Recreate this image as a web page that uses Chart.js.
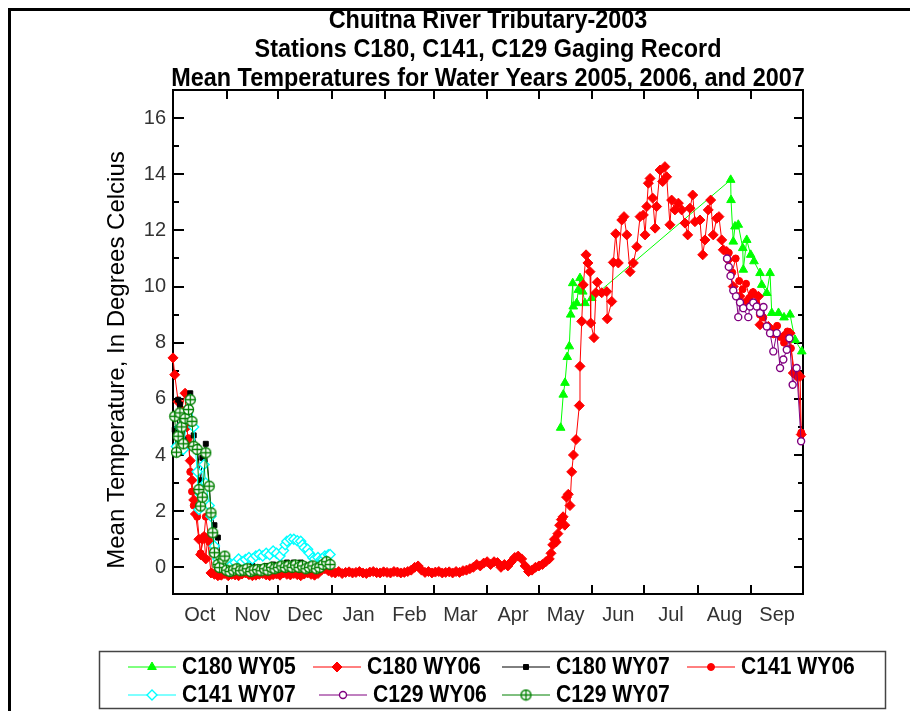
<!DOCTYPE html>
<html>
<head>
<meta charset="utf-8">
<script src="https://cdn.jsdelivr.net/npm/chart.js@4.4.1/dist/chart.umd.min.js"></script>
<style>
  html, body { margin: 0; padding: 0; background: #fff; }
  #wrap { width: 920px; height: 711px; }
</style>
</head>
<body>
<div id="wrap"><canvas id="gameCanvas" width="920" height="711"></canvas></div>
<script>
// Day of water year (0 = Oct 1) and mean temperature
const months = ['Oct', 'Nov', 'Dec', 'Jan', 'Feb', 'Mar', 'Apr', 'May', 'Jun', 'Jul', 'Aug', 'Sep'];
const monthMid = [15.5, 46, 76.5, 107.5, 137, 166.5, 197, 227.5, 258, 288.5, 319.5, 350];
const monthEdges = [31, 61, 92, 123, 151, 182, 212, 243, 273, 304, 335];
const yTicks = [0, 2, 4, 6, 8, 10, 12, 14, 16];

const titleLines = [
  'Chuitna River Tributary-2003',
  'Stations C180, C141, C129 Gaging Record',
  'Mean Temperatures for Water Years 2005, 2006, and 2007',
];
const yTitle = 'Mean Temperature, In Degrees Celcius';
const seriesNames = ['C180 WY05', 'C180 WY06', 'C180 WY07', 'C141 WY06', 'C141 WY07', 'C129 WY06', 'C129 WY07'];

const c180wy05 = [
  [224.6, 4.97], [226.1, 6.15], [227.1, 6.57], [228.4, 7.49], [229.6, 7.87], [230.4, 9.0], [231.6, 10.12],
  [231.9, 9.29], [233.9, 9.41], [234.8, 9.88], [235.8, 10.3], [237.4, 9.82], [238.7, 9.41], [242.6, 9.59],
  [323.1, 13.8], [323.3, 13.08], [324.6, 11.6], [325.6, 12.14], [327.5, 12.2], [330.1, 11.37], [330.4, 10.6],
  [332.4, 11.66], [334.7, 11.13], [336.6, 10.9], [340.1, 10.48], [341.1, 10.06], [344, 9.77], [345.9, 10.48],
  [346.9, 9.06], [350.8, 9.06], [354, 8.9], [357.5, 9.0], [360.4, 8.1], [364.3, 7.69],
];

const c180wy06 = [
  [0, 7.46], [1, 6.86], [3, 5.9], [5, 5.6], [7, 6.2], [8, 5.0], [9, 4.4], [10, 3.8], [11, 3.1], [12, 2.4],
  [13, 1.9], [15, 1.0], [16, 0.45], [17, 1.0], [18, 1.1], [19, 0.3], [20, 1.0], [22, -0.2],
  [24, -0.25], [26, -0.3], [28, -0.28], [30, -0.22], [32, -0.3], [34, -0.25], [36, -0.27], [38, -0.3],
  [40, -0.24], [42, -0.2], [44, -0.26], [46, -0.3], [48, -0.28], [50, -0.25], [52, -0.22], [54, -0.27],
  [56, -0.3], [58, -0.26], [60, -0.24], [62, -0.28], [64, -0.2], [66, -0.25], [68, -0.27], [70, -0.22],
  [72, -0.26], [74, -0.3], [76, -0.24], [78, -0.2], [80, -0.25], [82, -0.28], [84, -0.22], [86, -0.1],
  [88, -0.05], [90, -0.12], [92, -0.18], [94, -0.2], [96, -0.15], [98, -0.22], [100, -0.18], [102, -0.16],
  [104, -0.2], [106, -0.18], [108, -0.15], [110, -0.2], [112, -0.22], [114, -0.17], [116, -0.15], [118, -0.19],
  [120, -0.2], [122, -0.16], [124, -0.18], [126, -0.2], [128, -0.15], [130, -0.17], [132, -0.2], [134, -0.18],
  [136, -0.15], [138, -0.1], [140, 0.0], [142, 0.05], [144, -0.1], [146, -0.18], [148, -0.15], [150, -0.2],
  [152, -0.17], [154, -0.15], [156, -0.2], [158, -0.18], [160, -0.16], [162, -0.2], [164, -0.15], [166, -0.18],
  [168, -0.12], [170, -0.1], [172, -0.05], [174, 0.0], [176, 0.1], [178, 0.05], [180, 0.15], [182, 0.2],
  [184, 0.1], [186, 0.2], [188, 0.17], [190, 0.0], [192, 0.1], [194, 0.05], [196, 0.2], [198, 0.35],
  [200, 0.4], [202, 0.3], [204, 0.05], [206, -0.15], [208, -0.1], [210, 0.0], [212, 0.05], [214, 0.1],
  [216, 0.2], [218, 0.3], [219, 0.5], [220, 0.8], [221, 1.0], [222, 0.9], [223, 1.2], [224, 1.5],
  [225, 1.7], [226, 1.8], [227, 1.5], [228, 2.5], [229, 2.6], [230, 2.2], [231, 3.4], [232, 4.0],
  [233.5, 4.55], [235.4, 5.76], [235.8, 7.16], [236.8, 8.76], [237.7, 10.06], [239.3, 11.13], [240.4, 10.84],
  [241.6, 10.53], [242, 8.7], [243.9, 8.18], [245, 9.78], [245.8, 10.15], [248.4, 9.78], [251.3, 9.82],
  [251.6, 8.85], [254.2, 9.47], [255.1, 10.86], [256.5, 11.88], [258, 10.84], [260, 12.37], [261.3, 12.49],
  [262.9, 11.84], [264.8, 10.53], [266.7, 10.84], [268.7, 11.42], [270.6, 12.49], [272.5, 12.55], [273.5, 11.84],
  [274.5, 12.85], [275.4, 13.68], [276.4, 13.85], [277.9, 13.15], [279.3, 12.08], [280.2, 12.85], [282.2, 14.15],
  [283.7, 13.74], [285, 14.27], [286, 13.91], [287.9, 12.2], [288.9, 13.08], [290.8, 12.73], [292.8, 12.97],
  [294.7, 12.73], [296.6, 12.26], [298.2, 11.84], [299.5, 12.79], [301.1, 13.26], [302.4, 12.31], [305.3, 12.37],
  [306.9, 11.13], [308.2, 11.66], [310.1, 12.73], [311.5, 13.08], [313, 11.84], [315, 12.43], [316.3, 12.49],
  [317.9, 11.66], [318.8, 11.31], [320.8, 11.25], [321.7, 10.95], [324.6, 10.0], [328.5, 9.65], [332.4, 9.47],
  [336.2, 9.77], [339.2, 9.65], [340.1, 8.64], [344.9, 8.58], [347.8, 8.4], [353.6, 8.22], [357.5, 8.34],
  [359.4, 6.92], [361.5, 6.8], [363.3, 6.8], [364, 4.73],
];

const c180wy07 = [
  [1, 4.9], [2, 4.2], [3, 5.97], [4, 5.8], [6, 4.55], [8, 5.6], [10, 6.2], [12, 4.7], [14, 4.3], [16, 3.1],
  [17, 3.9], [19, 4.4], [21, 2.95], [22, 2.0], [24, 1.5], [26, 1.06], [28, 0.05], [30, -0.1], [32, -0.05],
  [34, -0.1], [36, 0.0], [38, -0.08], [40, -0.1], [42, 0.0], [44, -0.05], [46, 0.05], [48, -0.1], [50, 0.0],
  [52, -0.05], [54, 0.05], [56, 0.0], [58, 0.1], [60, 0.05], [62, 0.1], [64, 0.0], [66, 0.17], [68, 0.1],
  [70, 0.17], [72, 0.15], [74, 0.17], [76, 0.1], [78, 0.05], [80, 0.1], [82, 0.0], [84, 0.05], [86, 0.1],
  [88, 0.05], [90, 0.1],
];

const c141wy06 = [
  [9, 4.6], [10, 3.4], [11, 2.7], [12, 2.2], [14, 1.8], [16, 0.5], [18, 1.1], [19, 1.8], [21, 0.9],
  [23, -0.2], [25, -0.25], [27, -0.3], [29, -0.25], [200, null],
  [322, 11.2], [324, 10.5], [326, 11.0], [328, 10.2], [330, 9.9], [332, 10.1], [334, 9.6], [336, 9.8],
  [338, 9.4], [340, 9.0], [342, 8.9], [344, 8.6], [346, 8.5], [348, 8.3], [350, 8.6], [352, 8.2],
  [354, 8.0], [356, 8.4], [358, 7.8], [360, 7.0], [362, 6.9], [364, 4.8],
];

const c141wy07 = [
  [2, 4.3], [4, 5.0], [6, 4.2], [8, 5.3], [10, 5.97], [12, 5.0], [14, 3.4], [15, 2.06], [16, 2.6], [18, 3.66],
  [19, 3.0], [21, 2.2], [22, 1.82], [24, 0.76], [26, 0.3], [28, 0.1], [30, 0.15], [32, 0.2], [34, 0.1],
  [36, 0.17], [38, 0.3], [40, 0.2], [42, 0.28], [44, 0.35], [46, 0.3], [48, 0.4], [50, 0.46], [52, 0.4],
  [54, 0.5], [56, 0.45], [58, 0.58], [60, 0.5], [62, 0.4], [64, 0.6], [65, 0.8], [66, 0.93], [68, 1.0],
  [70, 1.0], [72, 0.95], [74, 0.93], [75, 0.8], [76, 0.7], [78, 0.64], [79, 0.5], [81, 0.34], [82, 0.3],
  [84, 0.35], [86, 0.3], [87, 0.28], [88, 0.4], [90, 0.45], [91, 0.46],
];

const c129wy06 = [
  [321, 11.0], [322, 10.7], [323, 10.38], [324.6, 9.86], [326.2, 9.65], [327.5, 8.91], [328.5, 9.43],
  [330.4, 9.23], [333.3, 8.91], [334.3, 9.29], [336.2, 9.43], [338.2, 9.29], [340.1, 9.06], [342.1, 9.27],
  [344, 8.58], [345.9, 8.34], [347.8, 7.69], [349.8, 8.34], [351.7, 7.1], [353.6, 7.4], [355.6, 7.75],
  [357.1, 8.16], [359, 6.5], [361.3, 7.1], [363.9, 4.49],
];

const c129wy07 = [
  [1, 5.38], [2, 4.1], [3, 4.67], [4, 5.5], [5, 5.0], [6, 4.4], [7, 5.3], [9, 5.62], [10, 5.97], [11, 5.2],
  [12, 4.31], [14, 4.2], [15, 2.77], [16, 2.18], [17, 2.5], [19, 4.08], [21, 2.89], [22, 1.94], [23, 1.23],
  [24, 0.52], [26, 0.1], [27, -0.01], [29, 0.3], [30, 0.4], [31, -0.1], [33, -0.15], [35, -0.1], [37, -0.05],
  [39, -0.12], [41, -0.1], [43, -0.05], [45, -0.15], [47, -0.1], [49, -0.08], [51, -0.12], [53, -0.05],
  [55, -0.1], [57, 0.0], [59, -0.05], [61, 0.0], [63, 0.05], [65, 0.0], [67, 0.05], [69, 0.0], [71, 0.08],
  [73, 0.0], [75, 0.05], [77, -0.05], [79, 0.0], [81, 0.05], [83, -0.05], [85, 0.0], [87, 0.1], [89, 0.2],
  [91, 0.1],
];

const plain = "'Liberation Sans', Arial, sans-serif";

// open circle with a plus through it, for C129 WY07
const crossCircle = document.createElement('canvas');
crossCircle.width = 13;
crossCircle.height = 13;
const cc = crossCircle.getContext('2d');
cc.fillStyle = '#fff';
cc.strokeStyle = '#008000';
cc.lineWidth = 1.3;
cc.beginPath();
cc.arc(6.5, 6.5, 5, 0, Math.PI * 2);
cc.fill();
cc.stroke();
cc.beginPath();
cc.moveTo(6.5, 1);
cc.lineTo(6.5, 12);
cc.moveTo(1, 6.5);
cc.lineTo(12, 6.5);
cc.stroke();

const toPoints = (pairs) => pairs.map(([d, t]) => ({ x: d, y: t }));

const makeSet = (i, pairs, color, style, radius, fill, order) => ({
  label: seriesNames[i],
  data: toPoints(pairs),
  borderColor: color,
  backgroundColor: fill,
  borderWidth: 1,
  pointStyle: style,
  pointRadius: radius,
  pointBorderColor: color,
  pointBackgroundColor: fill,
  pointBorderWidth: fill === '#fff' ? 1.4 : 1,
  tension: 0,
  spanGaps: false,
  clip: false,
  order: order,
});

const datasets = [
  makeSet(0, c180wy05, '#00ff00', 'triangle', 5, '#00ff00', 6),
  makeSet(1, c180wy06, '#ff0000', 'rectRot', 5, '#ff0000', 5),
  makeSet(2, c180wy07, '#000000', 'rect', 3.5, '#000000', 3),
  makeSet(3, c141wy06, '#ff0000', 'circle', 3.5, '#ff0000', 4),
  makeSet(4, c141wy07, '#00ffff', 'rectRot', 5, '#fff', 2),
  makeSet(5, c129wy06, '#800080', 'circle', 3.5, '#fff', 1),
  makeSet(6, c129wy07, '#008000', crossCircle, 6, '#fff', 0),
];

// draw text squeezed sideways, to look like the narrow face of the original
const narrowText = (ctx, text, x, y, squeeze) => {
  ctx.save();
  ctx.translate(x, y);
  ctx.scale(squeeze, 1);
  ctx.fillText(text, 0, 0);
  ctx.restore();
};

// three line bold title centred over the plot
const titleY = [21, 50, 79];
const titlePlugin = {
  id: 'narrowTitle',
  afterDraw(chart) {
    const { ctx, chartArea: a } = chart;
    ctx.save();
    ctx.fillStyle = '#000';
    ctx.font = 'bold 26px ' + plain;
    ctx.textAlign = 'center';
    ctx.textBaseline = 'middle';
    titleLines.forEach((t, i) => narrowText(ctx, t, (a.left + a.right) / 2, titleY[i], 0.9));
    // y axis title
    ctx.font = '24px ' + plain;
    ctx.translate(117, 360);
    ctx.rotate(-Math.PI / 2);
    ctx.fillText(yTitle, 0, 0);
    ctx.restore();
  },
};

// box around the plot with inward tick marks, plus the page frame
const framePlugin = {
  id: 'frame',
  beforeDatasetsDraw(chart) {
    const { ctx, chartArea: a, scales: { x, y } } = chart;
    ctx.save();
    ctx.strokeStyle = '#000';
    ctx.lineWidth = 2;
    ctx.strokeRect(a.left, a.top, a.right - a.left, a.bottom - a.top);
    ctx.beginPath();
    monthEdges.forEach((d) => {
      const px = Math.round(x.getPixelForValue(d));
      ctx.moveTo(px, a.bottom);
      ctx.lineTo(px, a.bottom - 9);
      ctx.moveTo(px, a.top);
      ctx.lineTo(px, a.top + 9);
    });
    for (let v = 0; v <= 16; v++) {
      const py = Math.round(y.getPixelForValue(v));
      const major = v % 2 === 0;
      ctx.moveTo(a.left, py);
      ctx.lineTo(a.left + (major ? 11 : 6), py);
      ctx.moveTo(a.right, py);
      ctx.lineTo(a.right - (major ? 9 : 5), py);
    }
    ctx.stroke();
    ctx.restore();
  },
  afterDraw(chart) {
    const ctx = chart.ctx;
    ctx.save();
    ctx.fillStyle = '#000';
    ctx.fillRect(8, 8, 902, 3);
    ctx.fillRect(8, 8, 3, 703);
    ctx.restore();
  },
};

// legend box laid out like the original, two rows
const legendSlots = [
  { x: 128, y: 667 }, { x: 313, y: 667 }, { x: 502, y: 667 }, { x: 687, y: 667 },
  { x: 128, y: 695 }, { x: 319, y: 695 }, { x: 502, y: 695 },
];

const legendPlugin = {
  id: 'boxLegend',
  afterDraw(chart) {
    const ctx = chart.ctx;
    ctx.save();
    ctx.strokeStyle = '#444';
    ctx.lineWidth = 1.5;
    ctx.strokeRect(99.5, 651.5, 786, 57);
    chart.data.datasets.forEach((ds, i) => {
      const s = legendSlots[i];
      ctx.strokeStyle = ds.borderColor;
      ctx.lineWidth = 1;
      ctx.beginPath();
      ctx.moveTo(s.x, s.y);
      ctx.lineTo(s.x + 48, s.y);
      ctx.stroke();
      const cx = s.x + 24;
      if (ds.pointStyle instanceof HTMLCanvasElement) {
        ctx.drawImage(ds.pointStyle, cx - 6.5, s.y - 6.5);
      } else {
        ctx.fillStyle = ds.pointBackgroundColor;
        ctx.strokeStyle = ds.pointBorderColor;
        ctx.lineWidth = ds.pointBorderWidth;
        Chart.helpers.drawPoint(ctx, {
          pointStyle: ds.pointStyle,
          radius: ds.pointRadius,
          rotation: 0,
          borderWidth: ds.pointBorderWidth,
        }, cx, s.y);
      }
      ctx.fillStyle = '#000';
      ctx.font = 'bold 24px ' + plain;
      ctx.textBaseline = 'middle';
      ctx.textAlign = 'left';
      narrowText(ctx, ds.label, s.x + 54, s.y, 0.88);
    });
    ctx.restore();
  },
};

const ctx = document.getElementById('gameCanvas').getContext('2d');

new Chart(ctx, {
  type: 'line',
  data: { datasets: datasets },
  options: {
    responsive: false,
    animation: false,
    devicePixelRatio: 1,
    layout: { padding: { left: 0, right: 117, top: 90, bottom: 0 } },
    plugins: {
      legend: { display: false },
      tooltip: { enabled: false },
      title: { display: false },
    },
    scales: {
      x: {
        type: 'linear',
        min: 0,
        max: 365,
        grid: { display: false, drawTicks: false },
        border: { display: false },
        afterBuildTicks: (scale) => {
          scale.ticks = monthMid.map((v) => ({ value: v }));
        },
        afterFit: (scale) => {
          scale.height = 117;
        },
        ticks: {
          autoSkip: false,
          maxRotation: 0,
          padding: 9,
          color: '#333',
          font: { family: plain, size: 20 },
          callback: (value, index) => months[index],
        },
      },
      y: {
        min: -0.95,
        max: 17,
        grid: { display: false, drawTicks: false },
        border: { display: false },
        afterBuildTicks: (scale) => {
          scale.ticks = yTicks.map((v) => ({ value: v }));
        },
        afterFit: (scale) => {
          scale.width = 173;
        },
        ticks: {
          padding: 7,
          color: '#333',
          font: { family: plain, size: 20 },
        },
      },
    },
  },
  plugins: [framePlugin, titlePlugin, legendPlugin],
});
</script>
</body>
</html>
